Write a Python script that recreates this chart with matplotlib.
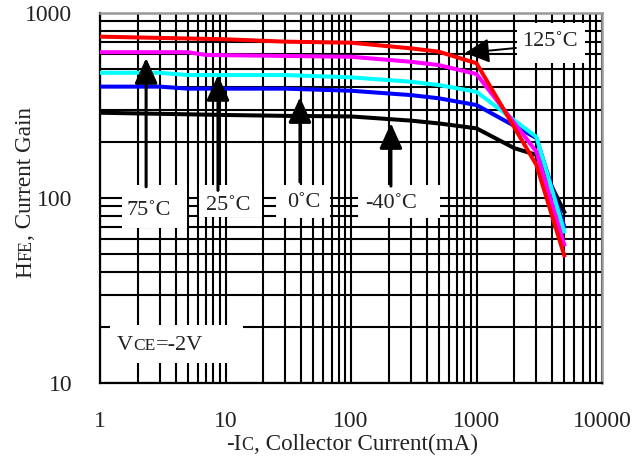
import matplotlib
matplotlib.use("Agg")
import matplotlib.pyplot as plt
from matplotlib.patches import Rectangle
from matplotlib.transforms import ScaledTranslation
from matplotlib.ticker import NullFormatter

SERIF = ['Liberation Serif', 'DejaVu Serif']
plt.rcParams['font.family'] = SERIF

# hFE vs collector current, one curve per ambient temperature
ic_red = [1, 10, 30, 100, 300, 500, 1000, 3000, 5000]
hfe_red = [745, 721, 700, 691, 644, 618, 535, 151, 49]          # 125 C

ic_mag = [1, 5, 7, 30, 100, 300, 500, 1000, 3000, 5000]
hfe_mag = [614, 614, 593, 586, 580, 545, 523, 468, 178, 56]     # 75 C

ic_cyan = [1, 3, 5, 30, 100, 300, 500, 1000, 3000, 5000]
hfe_cyan = [475, 475, 462, 462, 449, 425, 408, 375, 214, 66]    # 25 C

ic_blue = [1, 3, 5, 30, 100, 300, 500, 1000, 3000, 5000]
hfe_blue = [400, 400, 390, 390, 380, 360, 346, 318, 211, 70]    # 0 C

ic_black = [1, 10, 30, 100, 300, 500, 1000, 2000, 3000, 5000]
hfe_black = [289, 281, 278, 276, 262, 253, 238, 186, 171, 84]   # -40 C

x_ticks = [1, 10, 100, 1000, 10000]
y_ticks = [10, 100, 1000]

# temperature tags: text, text centre (axes fraction), white box (x0, y0, w, h)
tags = [
    ("75˚C", (0.0976, 0.465), (0.0438, 0.419, 0.1295, 0.116)),
    ("25˚C", (0.255, 0.481), (0.197, 0.449, 0.1255, 0.0865)),
    ("0˚C", (0.406, 0.489), (0.3506, 0.446, 0.1076, 0.089)),
    ("-40˚C", (0.580, 0.484), (0.514, 0.446, 0.163, 0.089)),
    ("125˚C", (0.896, 0.924), (0.8307, 0.865, 0.1355, 0.108)),
]
vce_box = (0.0199, 0.054, 0.265, 0.103)

# arrows pointing at the curves: (tip, tail) in data units
arrows = [
    ((2.33, 571), (2.33, 115)),
    ((8.71, 462), (8.71, 110)),
    ((39.2, 351), (39.2, 122)),
    ((208, 254), (208, 116)),
]
arrow_125 = ((809, 608), (2064, 647))


def chain_text(ax, x, y, pieces, rotation=0, center=True):
    # draw text pieces of different sizes one after another on a shared baseline
    fig = ax.figure
    renderer = fig.canvas.get_renderer()
    widths = []
    for s, size in pieces:
        t = fig.text(0, 0, s, fontsize=size, family=SERIF)
        widths.append(t.get_window_extent(renderer).width)
        t.remove()
    off = -sum(widths) / 2 if center else 0
    for (s, size), w in zip(pieces, widths):
        d = off / fig.dpi
        dx, dy = (0, d) if rotation == 90 else (d, 0)
        tr = ax.transAxes + ScaledTranslation(dx, dy, fig.dpi_scale_trans)
        ax.text(x, y, s, fontsize=size, family=SERIF, transform=tr,
                rotation=rotation, rotation_mode='anchor',
                ha='left', va='baseline', color='#222222', clip_on=False)
        off += w


fig = plt.figure(figsize=(6.39, 4.59), dpi=100)
ax = fig.add_axes([100 / 639, 76 / 459, 502 / 639, 370 / 459])

ax.set_xscale('log')
ax.set_yscale('log')
ax.set_xlim(1, 10000)
ax.set_ylim(10, 1000)

ax.set_axisbelow(True)
ax.grid(True, which='both', color='black', lw=1.5)
ax.tick_params(which='both', length=0, pad=20, labelsize=17, labelcolor='#222222')
ax.set_xticks(x_ticks)
ax.set_xticklabels([str(v) for v in x_ticks])
ax.set_yticks(y_ticks)
ax.set_yticklabels([str(v) for v in y_ticks])
ax.xaxis.set_minor_formatter(NullFormatter())
ax.yaxis.set_minor_formatter(NullFormatter())

for side in ['left', 'bottom']:
    ax.spines[side].set_color('black')
    ax.spines[side].set_linewidth(1.6)
for side in ['top', 'right']:
    ax.spines[side].set_color('#999999')
    ax.spines[side].set_linewidth(1.8)

lw = 2.9
ax.plot(ic_black, hfe_black, color='black', lw=lw, zorder=3)
ax.plot(ic_blue, hfe_blue, color='#0000ff', lw=lw, zorder=3)
ax.plot(ic_cyan, hfe_cyan, color='#00ffff', lw=lw, zorder=3)
ax.plot(ic_mag, hfe_mag, color='#ff00ff', lw=lw, zorder=3)
ax.plot(ic_red, hfe_red, color='#ff0000', lw=lw, zorder=3)

# white label boxes cut through the grid
for text, (tx, ty), (bx, by, bw, bh) in tags:
    ax.add_patch(Rectangle((bx, by), bw, bh, transform=ax.transAxes,
                           facecolor='white', edgecolor='none', zorder=1.5))
    ax.text(tx, ty, text, transform=ax.transAxes, fontsize=16,
            ha='center', va='center', color='#222222', zorder=5)
ax.add_patch(Rectangle(vce_box[:2], vce_box[2], vce_box[3], transform=ax.transAxes,
                       facecolor='white', edgecolor='none', zorder=1.5))
chain_text(ax, 0.034, 0.089, [("V", 16), ("CE", 12.5), ("=-2V", 16)], center=False)

for tip, tail in arrows:
    ax.annotate('', xy=tip, xytext=tail,
                arrowprops=dict(arrowstyle='-|>,head_length=1.55,head_width=0.7',
                                mutation_scale=10, lw=2.2, color='black',
                                shrinkA=0, shrinkB=0), zorder=4)
ax.annotate('', xy=arrow_125[0], xytext=arrow_125[1],
            arrowprops=dict(arrowstyle='-|>,head_length=1.5,head_width=0.75',
                            mutation_scale=10, lw=1.4, color='black',
                            shrinkA=0, shrinkB=0), zorder=4)

chain_text(ax, 0.502, -0.181, [("-I", 16.7), ("C", 13), (", Collector Current(mA)", 16.7)])
chain_text(ax, -0.137, 0.514, [("H", 16.7), ("FE", 13), (", Current Gain", 16.7)], rotation=90)

fig.savefig('out.png', dpi=100)
